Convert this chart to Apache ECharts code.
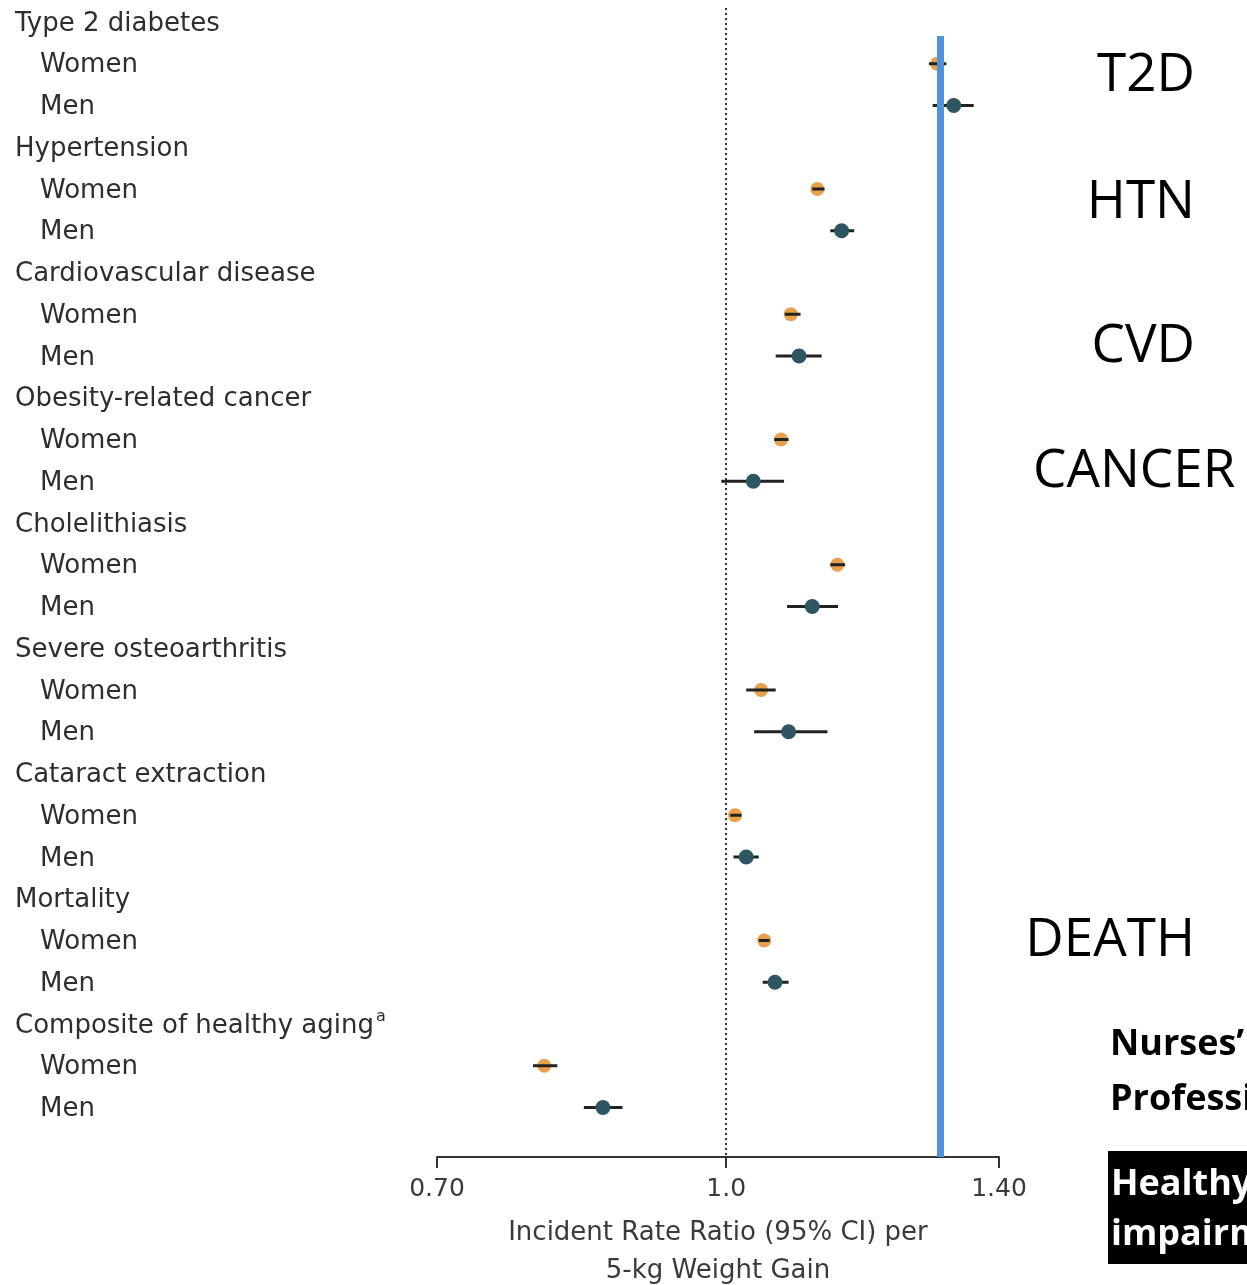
<!DOCTYPE html>
<html>
<head>
<meta charset="utf-8">
<script src="https://cdn.jsdelivr.net/npm/echarts@6/dist/echarts.min.js"></script>
<style>
  html, body { margin: 0; padding: 0; background: #fff; }
  #chart { width: 1247px; height: 1285px; }
</style>
</head>
<body>
<div id="chart"></div>
<script>
// outcomes, one header row followed by a Women and a Men row each
var outcomes = ['Type 2 diabetes', 'Hypertension', 'Cardiovascular disease', 'Obesity-related cancer',
  'Cholelithiasis', 'Severe osteoarthritis', 'Cataract extraction', 'Mortality', 'Composite of healthy aging'];

// incident rate ratio per 5-kg weight gain, with 95% CI
var womenIRR = [1.297, 1.119, 1.083, 1.070, 1.147, 1.044, 1.011, 1.048, 0.799];
var womenLo  = [1.284, 1.112, 1.075, 1.061, 1.137, 1.025, 1.005, 1.041, 0.788];
var womenHi  = [1.312, 1.129, 1.096, 1.080, 1.158, 1.063, 1.019, 1.055, 0.812];

var menIRR = [1.324, 1.153, 1.094, 1.034, 1.112, 1.080, 1.025, 1.062, 0.859];
var menLo  = [1.290, 1.137, 1.063, 0.994, 1.078, 1.035, 1.009, 1.046, 0.839];
var menHi  = [1.357, 1.171, 1.125, 1.074, 1.148, 1.133, 1.041, 1.080, 0.880];

var tickValues = [0.7, 1.0, 1.4];
var tickLabels = ['0.70', '1.0', '1.40'];

var markerLine = 1.302;   // blue annotation line
var sideNotes = ['T2D', 'HTN', 'CVD', 'CANCER', 'DEATH'];

// rows
var rowLabels = [];
outcomes.forEach(function (o) { rowLabels.push(o, 'Women', 'Men'); });
var rowIdx = rowLabels.map(function (l, i) { return i; });

function buildData(est, lo, hi, offset) {
  return est.map(function (v, i) {
    return [Math.log(lo[i]), Math.log(v), Math.log(hi[i]), i * 3 + offset];
  });
}

function ciItem(color, r, lineOnTop) {
  return function (params, api) {
    var a = api.coord([api.value(0), api.value(3)]);
    var m = api.coord([api.value(1), api.value(3)]);
    var b = api.coord([api.value(2), api.value(3)]);
    var line = {
      type: 'line',
      shape: { x1: a[0], y1: a[1], x2: b[0], y2: b[1] },
      style: { stroke: '#222', lineWidth: 3 }
    };
    var dot = {
      type: 'circle',
      shape: { cx: m[0], cy: m[1], r: r },
      style: { fill: color }
    };
    return { type: 'group', children: lineOnTop ? [dot, line] : [line, dot] };
  };
}

var FONT = 'DejaVu Sans';
var NOTE = 'Open Sans';

var myChart = echarts.init(document.getElementById('chart'));

var graphics = [];
var noteY = [76, 203, 347, 472, 941];
var noteX = [1195, 1195, 1195, 1033, 1195];
sideNotes.forEach(function (t, i) {
  graphics.push({
    type: 'text', x: noteX[i], y: noteY[i],
    style: {
      text: t, font: '53px "' + NOTE + '"', fill: '#000',
      textAlign: i === 3 ? 'left' : 'right', textVerticalAlign: 'middle'
    }
  });
});
graphics.push(
  { type: 'text', x: 1110, y: 1045, style: { text: 'Nurses\u2019 Health Study', font: 'bold 36px "' + NOTE + '"', fill: '#000', textVerticalAlign: 'middle' } },
  { type: 'text', x: 1110, y: 1100, style: { text: 'Professionals Follow-up Study', font: 'bold 36px "' + NOTE + '"', fill: '#000', textVerticalAlign: 'middle' } },
  { type: 'rect', shape: { x: 1108, y: 1151, width: 200, height: 113 }, style: { fill: '#000' } },
  { type: 'text', x: 1111, y: 1185, style: { text: 'Healthy aging', font: 'bold 36px "' + NOTE + '"', fill: '#fff', textVerticalAlign: 'middle' } },
  { type: 'text', x: 1111, y: 1235, style: { text: 'impairment', font: 'bold 36px "' + NOTE + '"', fill: '#fff', textVerticalAlign: 'middle' } }
);

var option = {
  animation: false,
  grid: { left: 437, right: 248, top: 8, bottom: 128, outerBoundsMode: 'none', containLabel: false },
  xAxis: {
    type: 'value',
    position: 'bottom',
    min: Math.log(0.7),
    max: Math.log(1.4),
    splitLine: { show: false },
    axisLine: { onZero: false, lineStyle: { color: '#333', width: 2 } },
    axisTick: {
      customValues: tickValues.map(Math.log),
      length: 11,
      lineStyle: { color: '#333', width: 2 }
    },
    axisLabel: {
      customValues: tickValues.map(Math.log),
      margin: 20,
      fontFamily: FONT,
      fontSize: 25,
      color: '#3a3a3a',
      formatter: function (v) {
        for (var i = 0; i < tickValues.length; i++) {
          if (Math.abs(Math.log(tickValues[i]) - v) < 1e-6) return tickLabels[i];
        }
        return '';
      }
    },
    name: 'Incident Rate Ratio (95% CI) per\n5-kg Weight Gain',
    nameLocation: 'middle',
    nameGap: 57,
    nameTextStyle: { fontFamily: FONT, fontSize: 26, color: '#3a3a3a', lineHeight: 38 }
  },
  yAxis: {
    type: 'value',
    inverse: true,
    min: -0.3353,
    max: 27.186,
    splitLine: { show: false },
    axisLine: { show: false },
    axisTick: { show: false },
    axisLabel: {
      customValues: rowIdx,
      align: 'left',
      margin: 422,
      fontFamily: FONT,
      fontSize: 26,
      color: '#2e2e2e',
      formatter: function (v) {
        var l = rowLabels[v];
        if (v % 3 !== 0) return '{s|' + l + '}';
        if (v === 24) return '{h|' + l + '}{sup|a}';
        return '{h|' + l + '}';
      },
      rich: {
        h: { fontFamily: FONT, fontSize: 26, color: '#2e2e2e', lineHeight: 30, padding: [4, 0, 0, 0] },
        s: { fontFamily: FONT, fontSize: 26, color: '#2e2e2e', lineHeight: 30, padding: [4, 0, 0, 25] },
        sup: { fontFamily: FONT, fontSize: 16, color: '#2e2e2e', lineHeight: 16, verticalAlign: 'top', padding: [0, 0, 0, 2] }
      }
    }
  },
  graphic: graphics,
  series: [
    {
      name: 'Women',
      type: 'custom',
      renderItem: ciItem('#e9a04c', 7, true),
      encode: { x: [0, 1, 2], y: 3 },
      data: buildData(womenIRR, womenLo, womenHi, 1),
      markLine: {
        silent: true,
        symbol: 'none',
        label: { show: false },
        lineStyle: { color: '#333', type: [2, 3], width: 2 },
        data: [{ xAxis: 0 }]
      },
      z: 3
    },
    {
      name: 'Men',
      type: 'custom',
      renderItem: ciItem('#2e5660', 7.5, false),
      encode: { x: [0, 1, 2], y: 3 },
      data: buildData(menIRR, menLo, menHi, 2),
      markLine: {
        silent: true,
        symbol: 'none',
        label: { show: false },
        lineStyle: { color: '#4f94d8', type: 'solid', width: 7 },
        data: [[{ coord: [Math.log(markerLine), 0.335] }, { coord: [Math.log(markerLine), 27.186] }]]
      },
      z: 3
    }
  ]
};

myChart.setOption(option);
</script>
</body>
</html>
